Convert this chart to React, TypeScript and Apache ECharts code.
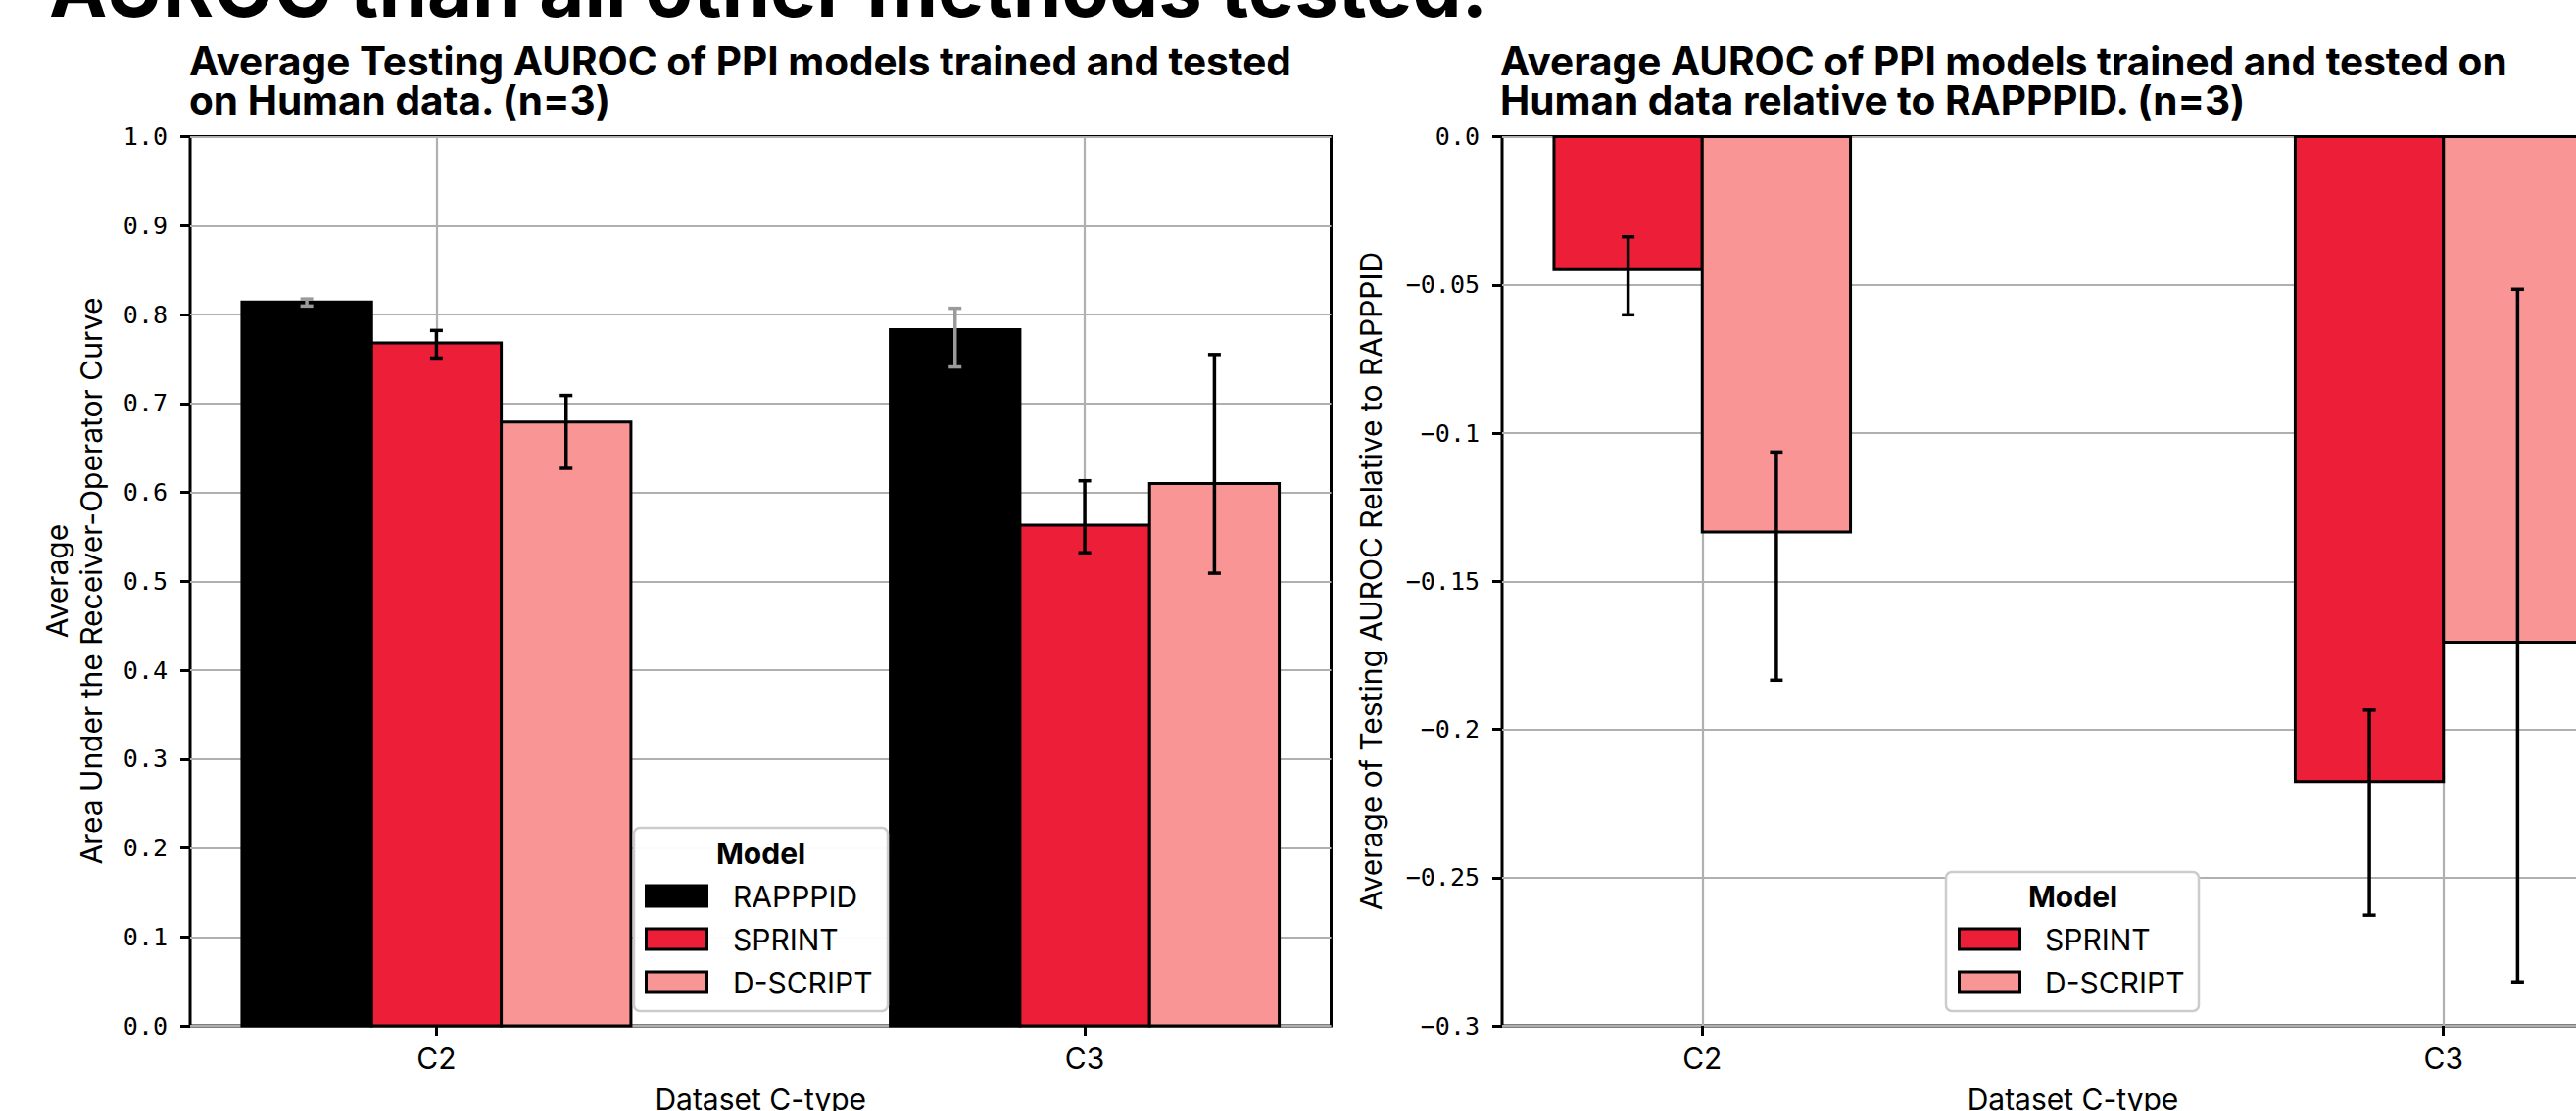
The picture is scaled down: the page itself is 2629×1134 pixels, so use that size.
import React, { useEffect, useRef } from "react";
import * as echarts from "echarts";

// ---------- data ----------
const categories = ["C2", "C3"];
const models = ["RAPPPID", "SPRINT", "D-SCRIPT"];

// Left: average testing AUROC (mean, error-bar low, error-bar high)
const rapppidAuroc = [0.814, 0.783];
const rapppidLow = [0.8095, 0.741];
const rapppidHigh = [0.8175, 0.807];
const sprintAuroc = [0.768, 0.563];
const sprintLow = [0.751, 0.532];
const sprintHigh = [0.782, 0.613];
const dscriptAuroc = [0.679, 0.610];
const dscriptLow = [0.627, 0.509];
const dscriptHigh = [0.709, 0.755];

// Right: AUROC relative to RAPPPID
const sprintRel = [-0.0449, -0.2176];
const sprintRelLow = [-0.0601, -0.2627];
const sprintRelHigh = [-0.0338, -0.1935];
const dscriptRel = [-0.1334, -0.1706];
const dscriptRelLow = [-0.1834, -0.2852];
const dscriptRelHigh = [-0.1064, -0.0515];

const leftTickLabels = ["0.0", "0.1", "0.2", "0.3", "0.4", "0.5", "0.6", "0.7", "0.8", "0.9", "1.0"];
const rightTickLabels = ["\u22120.3", "\u22120.25", "\u22120.2", "\u22120.15", "\u22120.1", "\u22120.05", "0.0"];

const colors = ["#000000", "#EC1E38", "#F99595"];
const errColors = ["#9a9a9a", "#000000", "#000000"];

const SANS = "Inter";
const MONO = "DejaVu Sans Mono";
const GRIDC = "#b0b0b0";

function barSeries(
  name: string,
  offset: number,
  vals: number[],
  lows: number[],
  highs: number[],
  color: string,
  errColor: string,
  axisIndex: number
) {
  return {
    type: "custom",
    name,
    xAxisIndex: axisIndex,
    yAxisIndex: axisIndex,
    z: 3,
    data: vals.map((v, i) => [i, v, lows[i], highs[i]]),
    encode: { x: 0, y: [1, 2, 3] },
    renderItem: (params: any, api: any) => {
      const c = api.value(0) + offset;
      const v = api.value(1);
      const lo = api.value(2);
      const hi = api.value(3);
      const a = api.coord([c - 0.1, 0]);
      const b = api.coord([c + 0.1, v]);
      const t = api.coord([c, hi]);
      const d = api.coord([c, lo]);
      const cap = 6.5;
      return {
        type: "group",
        children: [
          {
            type: "rect",
            shape: {
              x: Math.min(a[0], b[0]),
              y: Math.min(a[1], b[1]),
              width: Math.abs(b[0] - a[0]),
              height: Math.abs(b[1] - a[1]),
            },
            style: { fill: color, stroke: "#000", lineWidth: 3 },
          },
          {
            type: "line",
            shape: { x1: t[0], y1: t[1], x2: d[0], y2: d[1] },
            style: { stroke: errColor, lineWidth: 3.5 },
          },
          {
            type: "line",
            shape: { x1: t[0] - cap, y1: t[1], x2: t[0] + cap, y2: t[1] },
            style: { stroke: errColor, lineWidth: 3.5 },
          },
          {
            type: "line",
            shape: { x1: d[0] - cap, y1: d[1], x2: d[0] + cap, y2: d[1] },
            style: { stroke: errColor, lineWidth: 3.5 },
          },
        ],
      };
    },
  };
}

function xAxisDef(gridIndex: number, min: number, max: number) {
  return {
    type: "value",
    gridIndex,
    min,
    max,
    axisLine: { show: false, onZero: false },
    axisTick: { show: true, customValues: [0, 1], length: 10, lineStyle: { color: "#000", width: 3 } },
    axisLabel: {
      customValues: [0, 1],
      formatter: (v: number) => categories[Math.round(v)],
      fontFamily: SANS,
      fontSize: 30,
      lineHeight: 30,
      color: "#000",
      margin: 18,
    },
    splitLine: { show: true, lineStyle: { color: GRIDC, width: 2.2 } },
    name: "Dataset C-type",
    nameLocation: "middle",
    nameGap: 60,
    nameTextStyle: { fontFamily: SANS, fontSize: 30, lineHeight: 30, color: "#000" },
  };
}

function yAxisDef(gridIndex: number, min: number, max: number, interval: number, fmt: (v: number) => string) {
  return {
    type: "value",
    gridIndex,
    min,
    max,
    interval,
    axisLine: { show: false, onZero: false },
    axisTick: { show: true, length: 10, lineStyle: { color: "#000", width: 3 } },
    axisLabel: { formatter: fmt, fontFamily: MONO, fontSize: 25, color: "#000", margin: 23 },
    splitLine: { show: true, lineStyle: { color: GRIDC, width: 2.2 } },
  };
}

function legendGraphic(x: number, y: number, w: number, h: number, titleX: number, titleY: number,
  patchX: number, textX: number, rowsY: number[], idx: number[]) {
  const children: any[] = [
    {
      type: "rect",
      z: 100,
      shape: { x, y, width: w, height: h, r: 6 },
      style: { fill: "rgba(255,255,255,0.96)", stroke: "#cccccc", lineWidth: 2.5 },
    },
    {
      type: "text",
      z: 101,
      x: titleX,
      y: titleY,
      style: { text: "Model", font: `bold 30px ${SANS}`, fill: "#000", align: "center", verticalAlign: "middle" },
    },
  ];
  idx.forEach((m, k) => {
    children.push({
      type: "rect",
      z: 101,
      shape: { x: patchX + 1.5, y: rowsY[k] - 10.5, width: 62, height: 21 },
      style: { fill: colors[m], stroke: "#000", lineWidth: 3 },
    });
    children.push({
      type: "text",
      z: 101,
      x: textX,
      y: rowsY[k],
      style: { text: models[m], font: `30px ${SANS}`, fill: "#000", align: "left", verticalAlign: "middle" },
    });
  });
  return { type: "group", z: 100, children };
}

export default function App() {
  const ref = useRef<HTMLDivElement>(null);
  useEffect(() => {
    if (!ref.current) return;
    const chart = echarts.init(ref.current, undefined, { renderer: "svg" });
    const titleStyle = { fontFamily: SANS, fontWeight: "bold", fontSize: 40.5, lineHeight: 40, color: "#000" };
    const option: any = {
      animation: false,
      backgroundColor: "#ffffff",
      title: [
        {
          text: "Average Testing AUROC of PPI models trained and tested\non Human data. (n=3)",
          left: 193,
          top: 42,
          padding: 0,
          textStyle: titleStyle,
        },
        {
          text: "Average AUROC of PPI models trained and tested on\nHuman data relative to RAPPPID. (n=3)",
          left: 1531,
          top: 42,
          padding: 0,
          textStyle: titleStyle,
        },
      ],
      grid: [
        {
          left: 194, top: 139.5, width: 1164.5, height: 907.5,
          show: true, borderColor: "#000", borderWidth: 3,
          containLabel: false, outerBoundsMode: "none",
        },
        {
          left: 1533, top: 139.5, width: 1165, height: 907.5,
          show: true, borderColor: "#000", borderWidth: 3,
          containLabel: false, outerBoundsMode: "none",
        },
      ],
      xAxis: [xAxisDef(0, -0.38, 1.38), xAxisDef(1, -0.27, 1.27)],
      yAxis: [
        yAxisDef(0, 0, 1, 0.1, (v: number) => leftTickLabels[Math.round(v * 10)]),
        yAxisDef(1, -0.3, 0, 0.05, (v: number) => rightTickLabels[Math.round((v + 0.3) / 0.05)]),
      ],
      series: [
        barSeries(models[0], -0.2, rapppidAuroc, rapppidLow, rapppidHigh, colors[0], errColors[0], 0),
        barSeries(models[1], 0, sprintAuroc, sprintLow, sprintHigh, colors[1], errColors[1], 0),
        barSeries(models[2], 0.2, dscriptAuroc, dscriptLow, dscriptHigh, colors[2], errColors[2], 0),
        barSeries(models[1], -0.1, sprintRel, sprintRelLow, sprintRelHigh, colors[1], errColors[1], 1),
        barSeries(models[2], 0.1, dscriptRel, dscriptRelLow, dscriptRelHigh, colors[2], errColors[2], 1),
      ],
      graphic: [
        {
          type: "text",
          x: 50,
          y: -12,
          style: {
            text: "AUROC than all other methods tested.",
            font: `bold 79.5px ${SANS}`,
            fill: "#000",
            align: "left",
            verticalAlign: "middle",
          },
        },
        {
          type: "text",
          x: 75.5,
          y: 593,
          rotation: Math.PI / 2,
          style: {
            text: "Average\nArea Under the Receiver-Operator Curve",
            font: `30px ${SANS}`,
            lineHeight: 35,
            fill: "#000",
            align: "center",
            verticalAlign: "middle",
          },
        },
        {
          type: "text",
          x: 1399,
          y: 593,
          rotation: Math.PI / 2,
          style: {
            text: "Average of Testing AUROC Relative to RAPPPID",
            font: `30px ${SANS}`,
            fill: "#000",
            align: "center",
            verticalAlign: "middle",
          },
        },
        legendGraphic(647, 845, 259, 187, 776.5, 870.5, 658, 748, [914.5, 958.5, 1002.5], [0, 1, 2]),
        legendGraphic(1986, 890, 258, 142, 2115.5, 914.5, 1998, 2087, [958.5, 1002.5], [1, 2]),
      ],
    };
    chart.setOption(option);
    return () => chart.dispose();
  }, []);
  return (
    <div
      ref={ref}
      style={{ position: "absolute", left: 0, top: 0, width: 2629, height: 1134, background: "#fff" }}
    />
  );
}
